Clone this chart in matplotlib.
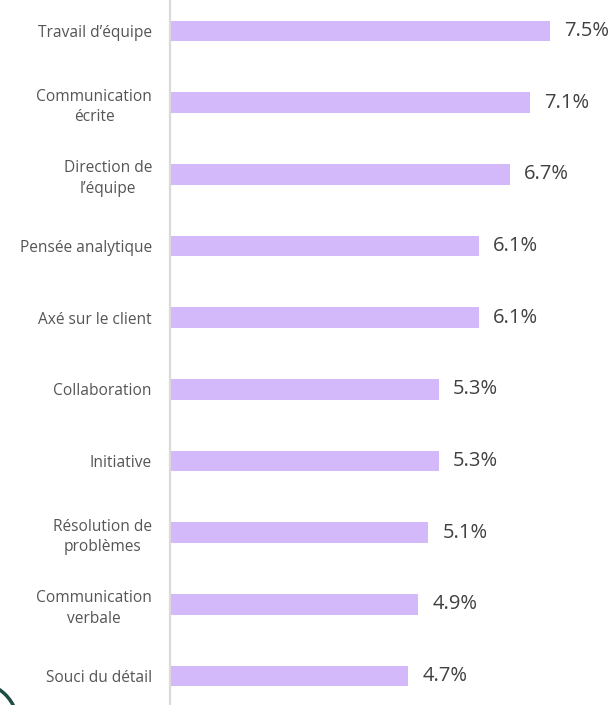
import matplotlib.pyplot as plt
from matplotlib import patches

plt.rcParams['font.family'] = ['Open Sans', 'DejaVu Sans']

competences = ["Travail d\u2019\u00e9quipe", "Communication\n\u00e9crite", "Direction de\nl\u2019\u00e9quipe",
               "Pens\u00e9e analytique", "Ax\u00e9 sur le client", "Collaboration", "Initiative",
               "R\u00e9solution de\nprobl\u00e8mes", "Communication\nverbale", "Souci du d\u00e9tail"]
pourcentages = [7.5, 7.1, 6.7, 6.1, 6.1, 5.3, 5.3, 5.1, 4.9, 4.7]

fig = plt.figure(figsize=(6.15, 7.05), dpi=100)
ax = fig.add_axes([170 / 615, 0, 1 - 170 / 615, 1])

pos = list(range(len(competences)))
ax.barh(pos, pourcentages, height=0.29, color="#d3b9fa")
for p, v in zip(pos, pourcentages):
    ax.text(v + 0.28, p, f"{v}%", va="center", ha="left", fontsize=14.5, color="#404040")

ax.set_xlim(0, 8.78)
ax.set_ylim(9.405, -0.433)
ax.set_yticks(pos)
ax.set_yticklabels(competences, fontsize=11.2, color="#555555", multialignment="center",
                   linespacing=1.4)
ax.tick_params(axis="y", length=0, pad=13)
ax.set_xticks([])
for s in ["top", "right", "bottom"]:
    ax.spines[s].set_visible(False)
ax.spines["left"].set_color("#dadada")
ax.spines["left"].set_linewidth(1.6)

# bout de logo en bas à gauche
cercle = patches.Circle((-25, -20), 43, transform=None, fill=False, edgecolor="#1e4d45", linewidth=2.5)
fig.patches.append(cercle)

fig.savefig("out.png", dpi=100)
